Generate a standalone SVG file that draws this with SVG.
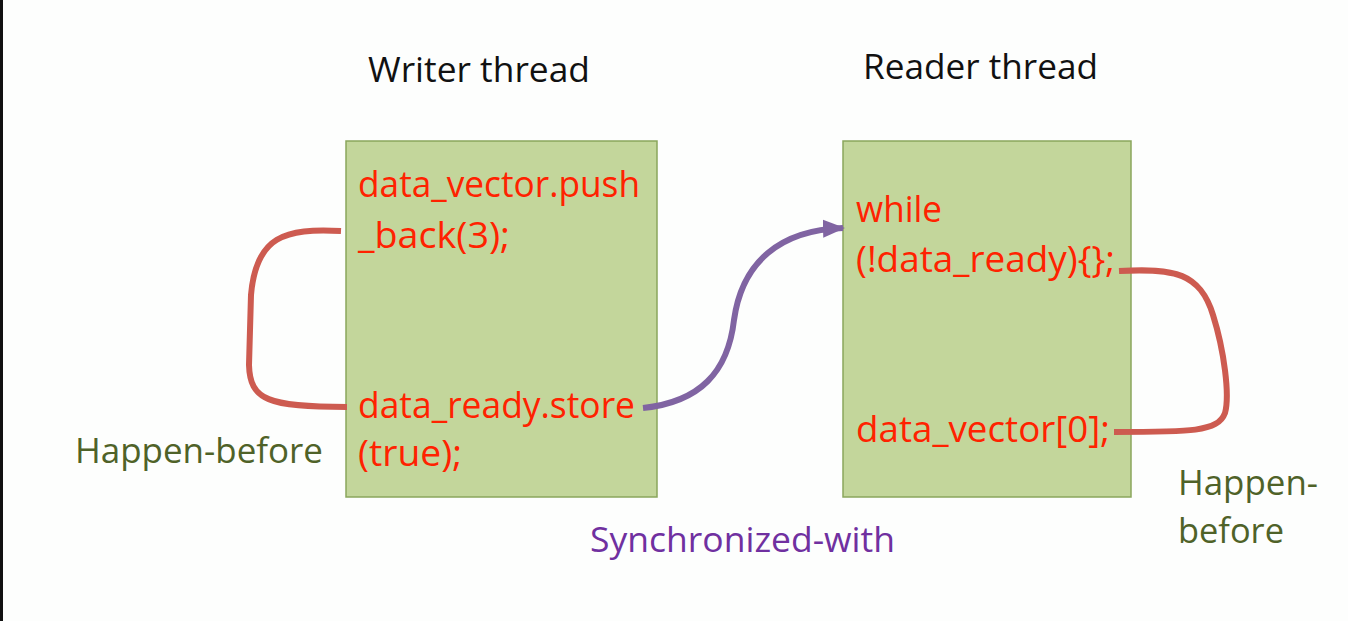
<svg xmlns="http://www.w3.org/2000/svg" width="1348" height="621" viewBox="0 0 1348 621">
<style>
text { font-family: "Open Sans", "Liberation Sans", sans-serif; }
.title { font-size: 34px; fill: #111111; }
.code { font-size: 36px; fill: #ff2200; }
.hb { font-size: 34px; fill: #4f6228; }
.sync { font-size: 35px; fill: #7030a0; }
.box { fill: #c3d69b; stroke: #8aa65c; stroke-width: 1.5; }
.red { fill: none; stroke: #cd5b50; stroke-width: 6; stroke-linecap: butt; }
.purple { fill: none; stroke: #8064a2; stroke-width: 6; }
</style>
<defs>
<marker id="arr" markerUnits="userSpaceOnUse" markerWidth="22" markerHeight="22" viewBox="0 0 22 22" refX="20" refY="11" orient="auto">
<path d="M0,2 L22,11 L0,20 Z" fill="#8064a2"/>
</marker>
</defs>
<rect x="0" y="0" width="1348" height="621" fill="#fdfefd"/>
<rect x="0" y="0" width="3" height="621" fill="#111111"/>
<g id="writer-title"><text class="title" x="368" y="82" textLength="222" lengthAdjust="spacingAndGlyphs">Writer thread</text></g>
<g id="reader-title"><text class="title" x="863" y="79" textLength="235" lengthAdjust="spacingAndGlyphs">Reader thread</text></g>
<g id="writer">
<rect class="box" x="346" y="141" width="311" height="356"/>
<text class="code" x="358" y="197" textLength="282" lengthAdjust="spacingAndGlyphs">data_vector.push</text>
<text class="code" x="358" y="248" textLength="152" lengthAdjust="spacingAndGlyphs">_back(3);</text>
<text class="code" x="358" y="418" textLength="277" lengthAdjust="spacingAndGlyphs">data_ready.store</text>
<text class="code" x="358" y="466" textLength="104" lengthAdjust="spacingAndGlyphs">(true);</text>
</g>
<g id="reader">
<rect class="box" x="843" y="141" width="288" height="356"/>
<text class="code" x="856" y="222" textLength="86" lengthAdjust="spacingAndGlyphs">while</text>
<text class="code" x="856" y="272" textLength="259" lengthAdjust="spacingAndGlyphs">(!data_ready){};</text>
<text class="code" x="856" y="442" textLength="254" lengthAdjust="spacingAndGlyphs">data_vector[0];</text>
</g>
<g id="connectors">
<path class="red" d="M341,231 C285,228 256,236 251,295 L249,365 C250,400 268,407 347,407"/>
<path class="red" d="M1119,271 C1175,268 1200,273 1213,315 C1224,350 1230,395 1225,413 C1218,432 1190,432 1114,432"/>
<path class="purple" marker-end="url(#arr)" d="M643,408 C700,402 728,372 734,320 C742,262 780,230 843,228"/>
</g>
<g id="label-hb-left"><text class="hb" x="75" y="463" textLength="248" lengthAdjust="spacingAndGlyphs">Happen-before</text></g>
<g id="label-sync"><text class="sync" x="590" y="552" textLength="305" lengthAdjust="spacingAndGlyphs">Synchronized-with</text></g>
<g id="label-hb-right">
<text class="hb" x="1178" y="495" textLength="140" lengthAdjust="spacingAndGlyphs">Happen-</text>
<text class="hb" x="1178" y="543" textLength="106" lengthAdjust="spacingAndGlyphs">before</text>
</g>
</svg>
